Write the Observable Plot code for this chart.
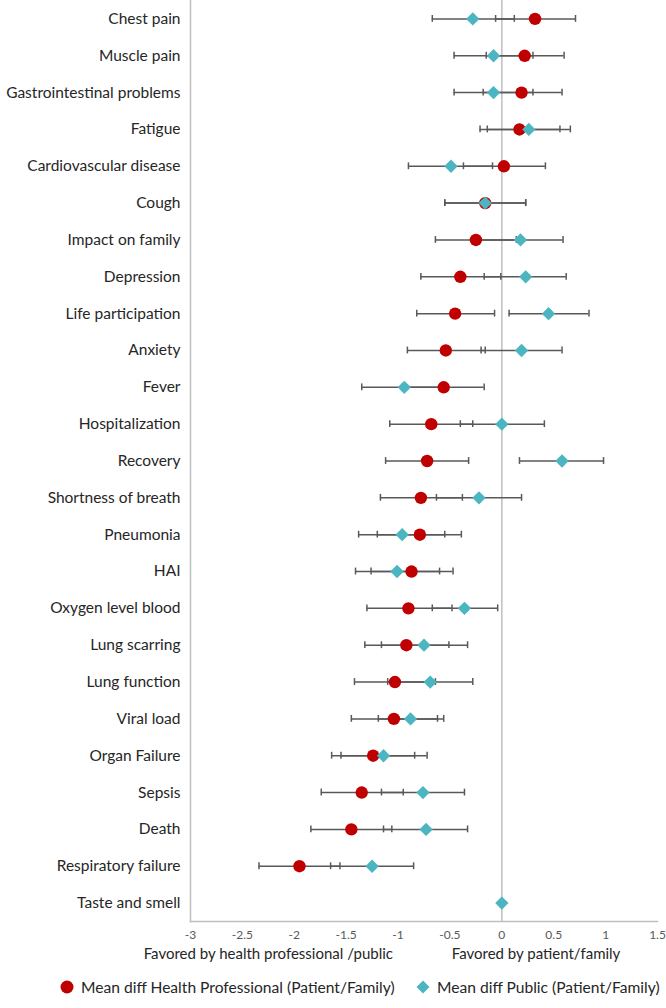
<!DOCTYPE html>
<html>
<head>
<meta charset="utf-8">
<script src="https://cdn.jsdelivr.net/npm/d3@7"></script>
<script src="https://cdn.jsdelivr.net/npm/@observablehq/plot@0.6"></script>
<style>
  html, body { margin: 0; padding: 0; background: #fff; }
  body { width: 666px; height: 1008px; overflow: hidden; font-family: Lato, "Liberation Sans", sans-serif; }
  #legend { position: relative; height: 40px; font-size: 15.6px; color: #262626; }
  .item { position: absolute; top: 10px; display: flex; align-items: center; white-space: nowrap; }
  .item svg { margin-right: 5px; }
</style>
</head>
<body>
<div id="chart"></div>
<div id="legend">
  <div class="item" style="left:58px"><svg width="18" height="18"><circle cx="9" cy="9" r="6.5" fill="#c00000"/></svg><span>Mean diff Health Professional (Patient/Family)</span></div>
  <div class="item" style="left:414px"><svg width="18" height="18"><path d="M9,2.5L15.5,9L9,15.5L2.5,9Z" fill="#4bb5c1"/></svg><span>Mean diff Public (Patient/Family)</span></div>
</div>
<script>
const categories = ["Chest pain","Muscle pain","Gastrointestinal problems","Fatigue","Cardiovascular disease","Cough","Impact on family","Depression","Life participation","Anxiety","Fever","Hospitalization","Recovery","Shortness of breath","Pneumonia","HAI","Oxygen level blood","Lung scarring","Lung function","Viral load","Organ Failure","Sepsis","Death","Respiratory failure","Taste and smell"];

// Mean diff Health Professional (Patient/Family)
const hpMean = [0.32, 0.22, 0.19, 0.17, 0.02, -0.16, -0.25, -0.40, -0.45, -0.54, -0.56, -0.68, -0.72, -0.78, -0.79, -0.87, -0.90, -0.92, -1.03, -1.04, -1.24, -1.35, -1.45, -1.95, null];
const hpLow  = [-0.06, -0.15, -0.18, -0.21, -0.37, -0.55, -0.64, -0.78, -0.82, -0.91, -0.96, -1.08, -1.12, -1.17, -1.20, -1.26, -1.30, -1.32, -1.42, -1.45, -1.64, -1.74, -1.84, -2.34, null];
const hpHigh = [0.71, 0.60, 0.58, 0.56, 0.42, 0.23, 0.14, -0.01, -0.07, -0.16, -0.17, -0.28, -0.32, -0.38, -0.39, -0.47, -0.48, -0.51, -0.64, -0.62, -0.84, -0.95, -1.06, -1.56, null];

// Mean diff Public (Patient/Family)
const pubMean = [-0.28, -0.08, -0.08, 0.26, -0.49, -0.16, 0.18, 0.23, 0.45, 0.19, -0.94, 0.00, 0.58, -0.22, -0.96, -1.01, -0.36, -0.75, -0.69, -0.88, -1.14, -0.76, -0.73, -1.25, 0.00];
const pubLow  = [-0.67, -0.46, -0.46, -0.14, -0.90, -0.55, -0.24, -0.17, 0.07, -0.20, -1.35, -0.40, 0.17, -0.63, -1.38, -1.41, -0.67, -1.16, -1.10, -1.19, -1.55, -1.16, -1.14, -1.65, null];
const pubHigh = [0.12, 0.30, 0.30, 0.66, -0.09, 0.23, 0.59, 0.62, 0.84, 0.58, -0.53, 0.41, 0.98, 0.19, -0.55, -0.60, -0.04, -0.33, -0.28, -0.56, -0.72, -0.36, -0.33, -0.85, null];

const xTicks = [-3, -2.5, -2, -1.5, -1, -0.5, 0, 0.5, 1, 1.5];
const axisTitles = ["Favored by health professional /public", "Favored by patient/family"];
const axisTitleAt = [-2.25, 0.33];

const hp = categories.map((c, i) => ({cat: c, mean: hpMean[i], lo: hpLow[i], hi: hpHigh[i]})).filter(d => d.mean != null);
const pub = categories.map((c, i) => ({cat: c, mean: pubMean[i], lo: pubLow[i], hi: pubHigh[i]})).filter(d => d.mean != null);
const ci = [...hp, ...pub].filter(d => d.lo != null);
const titles = axisTitles.map((t, i) => ({label: t, x: axisTitleAt[i]}));

const barColor = "#595959";
const chart = Plot.plot({
  width: 666,
  height: 968,
  marginLeft: 190,
  marginRight: 9,
  marginTop: 0,
  marginBottom: 47,
  style: {fontFamily: "Lato, 'Liberation Sans', sans-serif", background: "#fff"},
  x: {domain: [-3, 1.5], label: null},
  y: {type: "band", domain: categories, padding: 0, round: false, label: null},
  marks: [
    Plot.ruleX([0], {stroke: "#bfbfbf", strokeWidth: 1.5}),
    Plot.frame({anchor: "left", stroke: "#bfbfbf", strokeWidth: 1.5}),
    Plot.frame({anchor: "bottom", stroke: "#bfbfbf", strokeWidth: 1.5}),
    Plot.ruleY(ci, {y: "cat", x1: "lo", x2: "hi", stroke: barColor, strokeWidth: 1.5}),
    Plot.tickX(ci, {x: "lo", y: "cat", insetTop: 15, insetBottom: 15, stroke: barColor, strokeWidth: 1.5}),
    Plot.tickX(ci, {x: "hi", y: "cat", insetTop: 15, insetBottom: 15, stroke: barColor, strokeWidth: 1.5}),
    Plot.dot(hp, {x: "mean", y: "cat", r: 6.2, symbol: "circle", fill: "#c00000"}),
    Plot.dot(pub, {x: "mean", y: "cat", r: 6, symbol: "diamond2", fill: "#4bb5c1"}),
    Plot.axisX({ticks: xTicks, tickSize: 0, tickPadding: 9, tickFormat: d => String(d), fontSize: 12, color: "#595959", label: null}),
    Plot.axisY({tickSize: 0, tickPadding: 10, fontSize: 15.5, color: "#262626", label: null}),
    Plot.text(titles, {x: "x", text: "label", frameAnchor: "bottom", dy: 37, fontSize: 15, fill: "#262626"})
  ]
});
document.getElementById("chart").appendChild(chart);
</script>
</body>
</html>
